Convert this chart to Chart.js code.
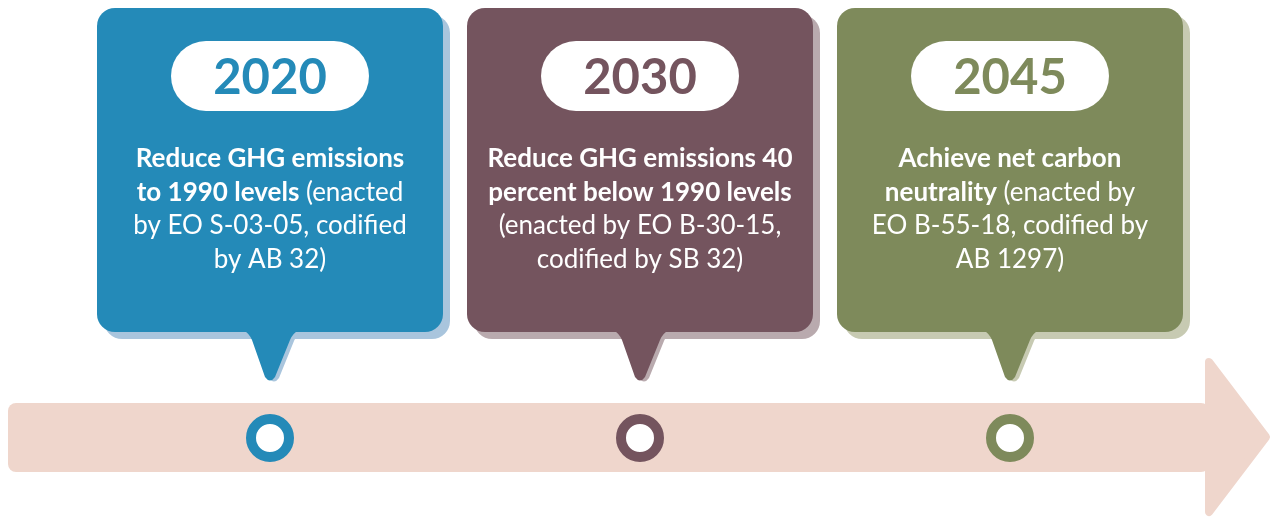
<!DOCTYPE html>
<html>
<head>
<meta charset="utf-8">
<script src="https://cdn.jsdelivr.net/npm/chart.js@4.4.1/dist/chart.umd.min.js"></script>
<style>
    html, body { margin: 0; padding: 0; background: #ffffff; }
    #wrap { width: 1273px; height: 519px; position: relative; }
</style>
</head>
<body>
<div id="wrap"><canvas id="timeline"></canvas></div>
<script>
// Timeline milestones
const years = ['2020', '2030', '2045'];
const boxColors = ['#248ab8', '#74545e', '#7e8a5b'];
const shadowColors = ['#a9c5dd', '#b9aaae', '#c7cab2'];

// Each line is a list of [bold?, text] pieces
const descriptions = [
    [
        [[true, 'Reduce GHG emissions']],
        [[true, 'to 1990 levels'], [false, ' (enacted']],
        [[false, 'by EO S-03-05, codified']],
        [[false, 'by AB 32)']]
    ],
    [
        [[true, 'Reduce GHG emissions 40']],
        [[true, 'percent below 1990 levels']],
        [[false, '(enacted by EO B-30-15,']],
        [[false, 'codified by SB 32)']]
    ],
    [
        [[true, 'Achieve net carbon']],
        [[true, 'neutrality'], [false, ' (enacted by']],
        [[false, 'EO B-55-18, codified by']],
        [[false, 'AB 1297)']]
    ]
];

const arrowColor = '#efd6cc';
const FONT = 'Lato, "Open Sans", sans-serif';

function roundRect(ctx, x, y, w, h, r) {
    ctx.beginPath();
    ctx.moveTo(x + r, y);
    ctx.arcTo(x + w, y, x + w, y + h, r);
    ctx.arcTo(x + w, y + h, x, y + h, r);
    ctx.arcTo(x, y + h, x, y, r);
    ctx.arcTo(x, y, x + w, y, r);
    ctx.closePath();
}

function pointer(ctx, px, bottom, tip) {
    ctx.beginPath();
    ctx.moveTo(px - 27, bottom - 2);
    ctx.quadraticCurveTo(px - 21, bottom + 1, px - 18, bottom + 8);
    ctx.lineTo(px - 5, tip - 5);
    ctx.quadraticCurveTo(px, tip + 2, px + 5, tip - 5);
    ctx.lineTo(px + 20, bottom + 8);
    ctx.quadraticCurveTo(px + 23, bottom + 1, px + 29, bottom - 2);
    ctx.closePath();
    ctx.fill();
}

function bubble(ctx, cx, top, bottom, tip, dx, dy, pdx, pdy) {
    roundRect(ctx, cx - 173 + dx, top + dy, 346, bottom - top, 18);
    ctx.fill();
    pointer(ctx, cx + pdx, bottom + pdy, tip + pdy);
}

const timelinePlugin = {
    id: 'timelinePlugin',
    beforeDatasetsDraw(chart) {
        const ctx = chart.ctx;
        const xs = chart.scales.x, ys = chart.scales.y;
        ctx.save();

        // big arrow
        const bandTop = ys.getPixelForValue(403), bandBot = ys.getPixelForValue(472);
        const headX = 1205;
        ctx.fillStyle = arrowColor;
        roundRect(ctx, 8, bandTop, headX - 8 + 4, bandBot - bandTop, 8);
        ctx.fill();
        ctx.strokeStyle = arrowColor;
        ctx.lineWidth = 8;
        ctx.lineJoin = 'round';
        ctx.beginPath();
        ctx.moveTo(headX + 4, ys.getPixelForValue(362));
        ctx.lineTo(1266, ys.getPixelForValue(437));
        ctx.lineTo(headX + 4, ys.getPixelForValue(512));
        ctx.closePath();
        ctx.fill();
        ctx.stroke();

        const top = ys.getPixelForValue(8), bottom = ys.getPixelForValue(332), tip = ys.getPixelForValue(382);
        years.forEach((yr, i) => {
            const cx = xs.getPixelForValue(i);
            ctx.fillStyle = shadowColors[i];
            bubble(ctx, cx, top, bottom, tip, 7, 7, 4, 1);
            ctx.fillStyle = boxColors[i];
            bubble(ctx, cx, top, bottom, tip, 0, 0, 0, 0);

            // year pill
            ctx.fillStyle = '#ffffff';
            roundRect(ctx, cx - 99, top + 33, 198, 70, 35);
            ctx.fill();
            ctx.fillStyle = boxColors[i];
            ctx.font = 'bold 49px ' + FONT;
            ctx.textAlign = 'center';
            ctx.textBaseline = 'alphabetic';
            ctx.fillText(yr, cx, top + 86);

            // description lines
            ctx.fillStyle = '#ffffff';
            ctx.textAlign = 'left';
            descriptions[i].forEach((line, li) => {
                let total = 0;
                line.forEach(([b, t]) => {
                    ctx.font = (b ? 'bold ' : '') + '26px ' + FONT;
                    total += ctx.measureText(t).width;
                });
                let x = cx - total / 2;
                const y = top + 159 + li * 33.7;
                line.forEach(([b, t]) => {
                    ctx.font = (b ? 'bold ' : '') + '26px ' + FONT;
                    ctx.fillText(t, x, y);
                    x += ctx.measureText(t).width;
                });
            });
        });
        ctx.restore();
    }
};

const ctx = document.getElementById('timeline').getContext('2d');
new Chart(ctx, {
    type: 'scatter',
    data: {
        datasets: [{
            label: 'Milestones',
            data: years.map((y, i) => ({ x: i, y: 438 })),
            pointRadius: 19,
            pointHoverRadius: 19,
            pointBorderWidth: 10,
            pointHoverBorderWidth: 10,
            pointBackgroundColor: '#ffffff',
            pointBorderColor: boxColors,
            pointHoverBackgroundColor: '#ffffff',
            pointHoverBorderColor: boxColors
        }]
    },
    options: {
        responsive: true,
        maintainAspectRatio: false,
        animation: false,
        layout: { padding: 0, autoPadding: false },
        plugins: {
            legend: { display: false },
            tooltip: { enabled: false }
        },
        events: [],
        scales: {
            x: { type: 'linear', display: false, min: -270 / 370, max: (1273 - 270) / 370 },
            y: { type: 'linear', display: false, min: 0, max: 519, reverse: true }
        }
    },
    plugins: [timelinePlugin]
});
</script>
</body>
</html>
